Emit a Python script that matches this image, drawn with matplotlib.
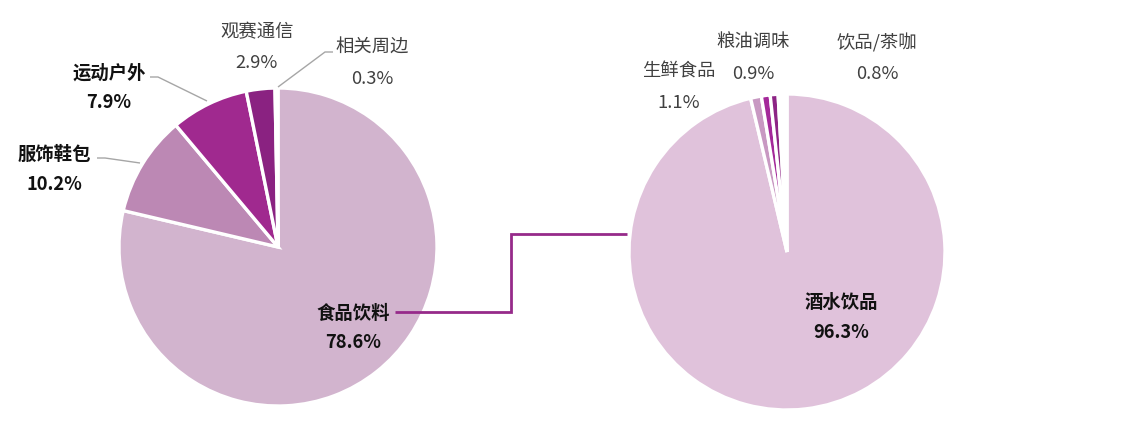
import matplotlib
matplotlib.use("Agg")
import matplotlib.pyplot as plt

plt.rcParams['font.family'] = ['Noto Sans CJK SC', 'DejaVu Sans']

# Left pie data
left_cats = ['食品饮料', '服饰鞋包', '运动户外', '观赛通信', '相关周边']
left_vals = [78.6, 10.2, 7.9, 2.9, 0.3]
left_colors = ['#d2b4ce', '#bc88b4', '#a0298f', '#8a2281', '#f4ecf3']

# Right pie data (breakdown of 食品饮料)
right_cats = ['酒水饮品', '生鲜食品', '粮油调味', '饮品/茶咖']
right_vals = [96.3, 1.1, 0.9, 0.8]
right_colors = ['#e0c2db', '#c898c2', '#a4289a', '#8d2485']
right_rest = 100 - sum(right_vals)

W, H = 1123, 422
fig = plt.figure(figsize=(W / 100, H / 100), dpi=100)
ax = fig.add_axes([0, 0, 1, 1])
ax.set_xlim(0, W)
ax.set_ylim(0, H)
ax.set_aspect('equal')
ax.axis('off')

def Y(py):
    return H - py

# Left pie
ax.pie(left_vals, colors=left_colors, startangle=90, counterclock=False,
       center=(278, Y(247)), radius=159,
       wedgeprops=dict(edgecolor='white', linewidth=2.4))
# Right pie
ax.pie(right_vals + [right_rest], colors=right_colors + ['white'], startangle=90,
       counterclock=False, center=(787, Y(252)), radius=158,
       wedgeprops=dict(edgecolor='white', linewidth=2.4))

ax.set_xlim(0, W)
ax.set_ylim(0, H)

fs = 13.2
bold_c = '#111111'
norm_c = '#404040'

def lab(x, y, name, pct, bold, gap=30):
    c = bold_c if bold else norm_c
    w = 'bold' if bold else 'normal'
    ax.text(x, Y(y), name, ha='center', va='center', fontsize=fs, fontweight=w, color=c)
    ax.text(x, Y(y + gap), pct, ha='center', va='center', fontsize=fs, fontweight=w, color=c)

# Left labels
lab(353, 313, left_cats[0], f'{left_vals[0]}%', True)
lab(54, 154, left_cats[1], f'{left_vals[1]}%', True, gap=31)
lab(109, 73, left_cats[2], f'{left_vals[2]}%', True, gap=30)
lab(257, 32, left_cats[3], f'{left_vals[3]}%', False, gap=31)
lab(372, 48, left_cats[4], f'{left_vals[4]}%', False, gap=31)

# Right labels
lab(841, 302, right_cats[0], f'{right_vals[0]}%', True)
lab(679, 72, right_cats[1], f'{right_vals[1]}%', False, gap=31)
lab(753, 43, right_cats[2], f'{right_vals[2]}%', False, gap=31)
lab(877, 43, right_cats[3], f'{right_vals[3]}%', False, gap=31)

# Leader lines
lc = '#a6a6a6'
def poly(pts, color=lc, lw=1.0):
    ax.plot([p[0] for p in pts], [Y(p[1]) for p in pts], color=color, lw=lw,
            solid_capstyle='butt', solid_joinstyle='miter')

poly([(150, 77), (158, 77), (207, 101)])
poly([(97, 158), (105, 158), (140, 163)])
poly([(333, 52), (325, 52), (278, 87)])

# Connector between pies
poly([(395, 312), (511, 312), (511, 234), (627, 234)], color='#962a8a', lw=2.0)

fig.savefig('out.png', dpi=100)
